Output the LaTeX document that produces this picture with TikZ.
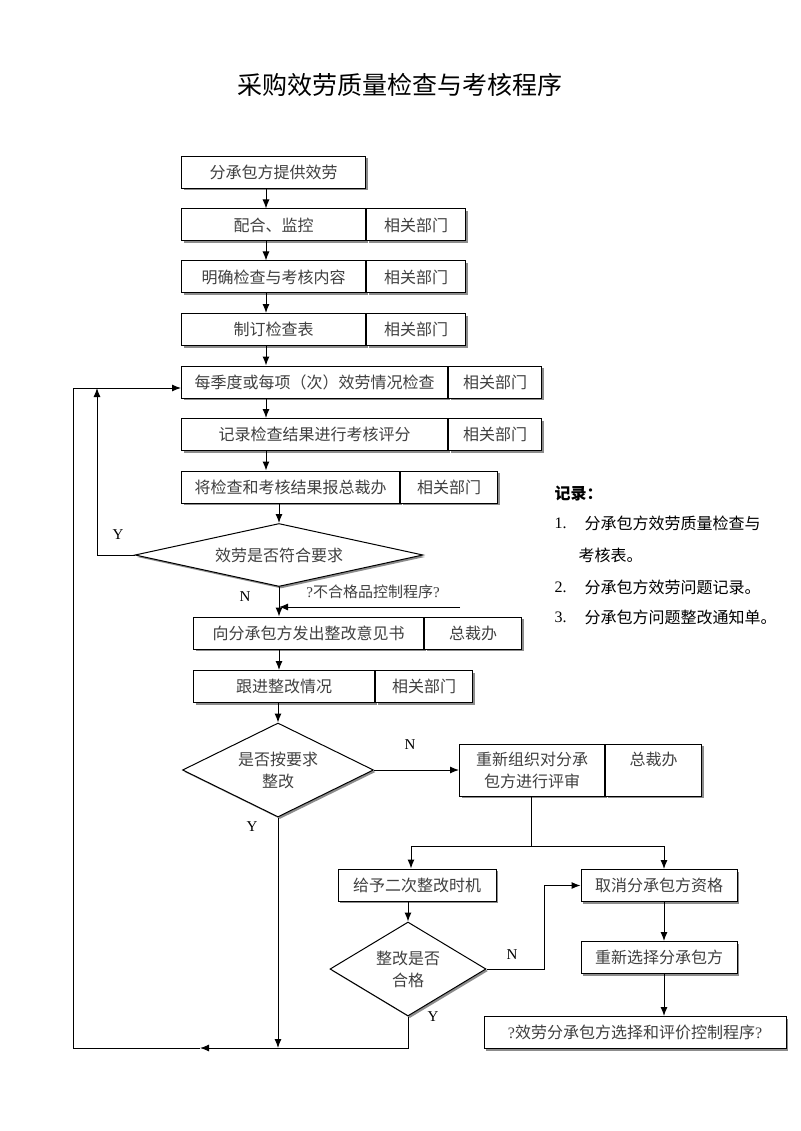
\documentclass[tikz,border=0pt]{standalone}
\usepackage{fontspec}
\setmainfont{Liberation Serif}
\newfontfamily\cjk{Noto Sans CJK SC}
\usetikzlibrary{arrows.meta, shadows, shapes.geometric}
\newcommand{\qmark}{{\rmfamily ?}}

\begin{document}
\begin{tikzpicture}[x=1pt, y=-1pt]
    % Definizione stili
    \tikzset{
        box/.style={
            rectangle,
            draw,
            fill=white,
            line width=1pt,
            minimum height=32pt,
            inner sep=0pt,
            text=black!75,
            align=center,
            font=\cjk\fontsize{16}{22}\selectfont,
            drop shadow={shadow xshift=2pt, shadow yshift=-2pt, opacity=1, fill=black!45}
        },
        dept/.style={box, anchor=west},
        decision/.style={
            diamond,
            draw,
            fill=white,
            line width=1pt,
            inner sep=0pt,
            text=black!75,
            align=center,
            font=\cjk\fontsize{16}{22}\selectfont,
            drop shadow={shadow xshift=2pt, shadow yshift=-2pt, opacity=1, fill=black!45}
        },
        arrow/.style={-{Latex[length=9pt, width=7pt]}, line width=1pt},
        conn/.style={line width=1pt},
        yn/.style={font=\fontsize{15}{18}\selectfont},
        note/.style={anchor=west, font=\cjk\fontsize{16}{19}\selectfont}
    }

    \useasboundingbox (0,0) rectangle (800,1131);

    % Titolo
    \node[font=\cjk\fontsize{25}{30}\selectfont] (title) at (400,85) {采购效劳质量检查与考核程序};

    % Colonna principale
    \node[box, minimum width=184pt, anchor=west] (b1) at (181,172.5) {分承包方提供效劳};

    \node[box, minimum width=184pt, anchor=west] (b2) at (181,225) {配合、监控};
    \node[dept, minimum width=99pt] (b2d) at (b2.east) {相关部门};

    \node[box, minimum width=184pt, anchor=west] (b3) at (181,277) {明确检查与考核内容};
    \node[dept, minimum width=99pt] (b3d) at (b3.east) {相关部门};

    \node[box, minimum width=184pt, anchor=west] (b4) at (181,329.5) {制订检查表};
    \node[dept, minimum width=99pt] (b4d) at (b4.east) {相关部门};

    \node[box, minimum width=266pt, anchor=west] (b5) at (181,382) {每季度或每项（次）效劳情况检查};
    \node[dept, minimum width=93pt] (b5d) at (b5.east) {相关部门};

    \node[box, minimum width=266pt, anchor=west] (b6) at (181,434.5) {记录检查结果进行考核评分};
    \node[dept, minimum width=93pt] (b6d) at (b6.east) {相关部门};

    \node[box, minimum width=218pt, anchor=west] (b7) at (181,487) {将检查和考核结果报总裁办};
    \node[dept, minimum width=97pt] (b7d) at (b7.east) {相关部门};

    \node[decision, aspect=4.5, minimum width=288pt, minimum height=63pt] (d1) at (279,555) {效劳是否符合要求};

    \node[box, minimum width=230pt, anchor=west] (b8) at (193,633) {向分承包方发出整改意见书};
    \node[dept, minimum width=97pt] (b8d) at (b8.east) {总裁办};

    \node[box, minimum width=181pt, anchor=west] (b9) at (193,686.5) {跟进整改情况};
    \node[dept, minimum width=97pt] (b9d) at (b9.east) {相关部门};

    \node[decision, aspect=2, minimum width=191pt, minimum height=94pt] (d2) at (278,770) {是否按要求\\整改};

    % Ramo di destra
    \node[box, minimum width=145pt, minimum height=52pt, anchor=west] (b10) at (459,770) {重新组织对分承\\包方进行评审};
    \node[dept, minimum width=96pt, minimum height=52pt] (b10d) at (b10.east) {总裁办\\\mbox{}};

    \node[box, minimum width=158pt] (b11) at (417,885) {给予二次整改时机};
    \node[box, minimum width=156pt] (b12) at (659,885.5) {取消分承包方资格};
    \node[box, minimum width=156pt] (b13) at (659,957.5) {重新选择分承包方};
    \node[box, minimum width=302pt] (b14) at (635,1032.5) {\qmark{}效劳分承包方选择和评价控制程序\qmark{}};

    \node[decision, aspect=1.66, minimum width=156pt, minimum height=94pt] (d3) at (408,969) {整改是否\\合格};

    % Punti di appoggio
    \coordinate (colA) at (266,0);
    \coordinate (colB) at (411,0);
    \coordinate (colC) at (664,0);
    \coordinate (split) at (531,846);
    \coordinate (loopY) at (97,388);
    \coordinate (loopO) at (73,1048);
    \coordinate (midA) at (200,1048);
    \coordinate (ncr) at (460,607);
    \coordinate (jog) at (544,0);

    % Frecce
    \foreach \a/\b in {b1/b2, b2/b3, b3/b4, b4/b5, b5/b6, b6/b7}
        \draw[arrow] (\a.south -| colA) -- (\b.north -| colA);
    \draw[arrow] (b7.south -| d1.north) -- (d1.north);
    \draw[arrow] (d1.west) -| (loopY);
    \draw[arrow] (d1.south) -- (b8.north -| d1.south);
    \draw[arrow] (ncr) -- (ncr -| d1.south);
    \draw[arrow] (b8.south -| d1.south) -- (b9.north -| d1.south);
    \draw[arrow] (b9.south -| d2.north) -- (d2.north);
    \draw[arrow] (d2.east) -- (b10.west);
    \draw[arrow] (d2.south) -- (d2.south |- loopO);
    \draw[conn] (b10.south -| split) -- (split);
    \draw[arrow] (split) -| (b11.north -| colB);
    \draw[arrow] (split) -| (b12.north -| colC);
    \draw[arrow] (b11.south -| d3.north) -- (d3.north);
    \draw[arrow] (d3.east) -- (d3.east -| jog) |- (b12.west);
    \draw[arrow] (b12.south -| colC) -- (b13.north -| colC);
    \draw[arrow] (b13.south -| colC) -- (b14.north -| colC);
    \draw[arrow] (d3.south) |- (midA);
    \draw[arrow] (midA) -- (loopO) |- ([yshift=-6pt]b5.west);

    % Etichette
    \node[yn] (y1) at (118,535) {Y};
    \node[yn] (n1) at (245,597) {N};
    \node[font=\cjk\fontsize{15}{18}\selectfont, text=black!75] (ncl) at (373,592) {\qmark{}不合格品控制程序\qmark{}};
    \node[yn] (n2) at (410,745) {N};
    \node[yn] (y2) at (252,827) {Y};
    \node[yn] (n3) at (512,955) {N};
    \node[yn] (y3) at (433,1017) {Y};

    % Registrazioni
    \node[note, font=\cjk\bfseries\fontsize{16}{19}\selectfont] (rec) at (551,494) {记录：};
    \foreach \i/\y/\t in {1/523/分承包方效劳质量检查与, 2/587/分承包方效劳问题记录。, 3/617/分承包方问题整改通知单。} {
        \node[anchor=west, font=\fontsize{16}{19}\selectfont] (num\i) at (551,\y) {\i.};
        \node[note] (item\i) at (581,\y) {\t};
    }
    \node[note] (item1b) at (575,555) {考核表。};

\end{tikzpicture}
\end{document}
